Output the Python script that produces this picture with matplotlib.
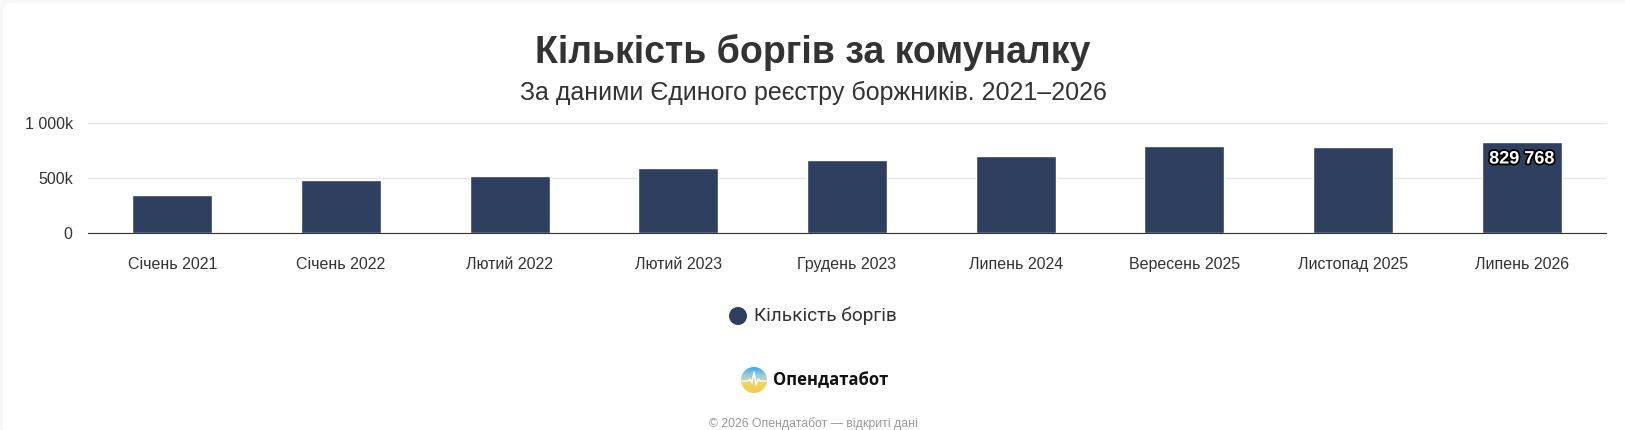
import numpy as np
import matplotlib.pyplot as plt
from matplotlib.colors import LinearSegmentedColormap
from matplotlib.patches import FancyBboxPatch, Circle
import matplotlib.patheffects as pe
from matplotlib.ticker import FuncFormatter

months = ['Січень 2021', 'Січень 2022', 'Лютий 2022', 'Лютий 2023', 'Грудень 2023',
          'Липень 2024', 'Вересень 2025', 'Листопад 2025', 'Липень 2026']
debts = [343000, 480000, 514000, 593000, 663000, 696000, 787000, 786000, 829768]
y_ticks = [0, 500000, 1000000]

W, H = 1625, 430
bar_color = '#2e3f60'
plt.rcParams['font.family'] = ['Liberation Sans', 'DejaVu Sans']

fig = plt.figure(figsize=(W / 100, H / 100), dpi=100)
fig.patch.set_facecolor('#f7f8fa')

# background layer in pixel coords (y down), holds card, legend and logo
bg = fig.add_axes([0, 0, 1, 1], zorder=-1)
bg.set_xlim(0, W)
bg.set_ylim(H, 0)
bg.set_axis_off()
bg.add_patch(FancyBboxPatch((3, 3), W + 10, H + 10, boxstyle='round,pad=0,rounding_size=8',
                            facecolor='white', edgecolor='none'))

# plot area, pixel box from the reference
ax = fig.add_axes([88 / W, (H - 233) / H, (1606 - 88) / W, (233 - 123) / H])
ax.set_facecolor('none')
x = np.arange(len(months))
ax.bar(x, debts, width=0.475, color=bar_color, edgecolor='white', linewidth=1, zorder=3)
ax.set_xlim(-0.5, len(months) - 0.5)
ax.set_ylim(0, 1000000)
ax.set_yticks(y_ticks)
ax.yaxis.set_major_formatter(FuncFormatter(
    lambda v, p: '0' if v == 0 else (f'{int(v / 1000)}k' if v < 1e6 else '1 000k')))
ax.set_xticks(x)
ax.set_xticklabels(months)
ax.tick_params(axis='both', length=0, labelsize=11.5, colors='#333333')
ax.tick_params(axis='x', pad=17)
ax.tick_params(axis='y', pad=11)
ax.grid(axis='y', color='#e6e6e6', linewidth=1, zorder=0)
for s in ['top', 'right', 'left']:
    ax.spines[s].set_visible(False)
ax.spines['bottom'].set_color('#333333')
ax.spines['bottom'].set_zorder(4)

# label on the last bar only
ax.text(x[-1], debts[-1] - 80000, f'{debts[-1]:,}'.replace(',', ' '),
        ha='center', va='top', color='white', fontsize=13, fontweight='bold', zorder=5,
        path_effects=[pe.withStroke(linewidth=2.5, foreground='black')])

fig.text(813 / W, 1 - 52 / H, 'Кількість боргів за комуналку', ha='center', va='center',
         fontsize=27, fontweight='bold', color='#333333')
fig.text(813 / W, 1 - 93 / H, 'За даними Єдиного реєстру боржників. 2021–2026', ha='center',
         va='center', fontsize=18, color='#333333')

# legend
bg.add_patch(Circle((738, 316), 9, facecolor=bar_color, edgecolor='none'))
bg.text(754, 316, 'Кількість боргів', ha='left', va='center',
        fontsize=13.7, color='#333333', family=['Roboto', 'DejaVu Sans'])

# logo
cmap = LinearSegmentedColormap.from_list('logo', ['#39a8f0', '#9ccfe0', '#f2d65a', '#f5c94a'])
grad = np.linspace(0, 1, 100)[:, None] * np.ones((1, 100))
img = bg.imshow(grad, cmap=cmap, extent=(741, 767, 393, 367), aspect='auto', zorder=2)
img.set_clip_path(Circle((754, 380), 13, transform=bg.transData))
wave_x = [742, 748, 750, 752, 754, 756, 758, 760, 766]
wave_y = [381, 381, 379, 383, 372, 385, 379, 381, 381]
bg.plot(wave_x, wave_y, color='white', lw=1, zorder=3)
bg.text(773, 380, 'Опендатабот', ha='left', va='center', fontsize=12,
        fontweight='bold', color='#111111', family=['Open Sans', 'DejaVu Sans'])

fig.text(813 / W, 1 - 424 / H, '© 2026 Опендатабот — відкриті дані', ha='center',
         va='center', fontsize=8.8, color='#999999')

fig.savefig('out.png', dpi=100, facecolor=fig.get_facecolor())
